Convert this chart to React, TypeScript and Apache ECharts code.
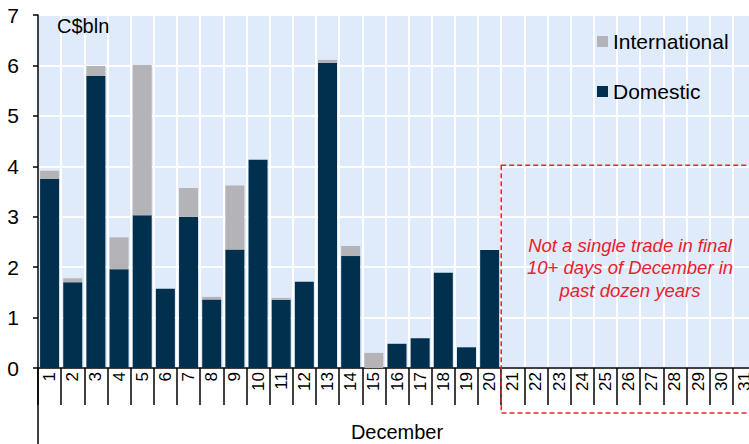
import React, { useEffect, useRef } from "react";
import * as echarts from "echarts";

const days = ["1","2","3","4","5","6","7","8","9","10","11","12","13","14","15","16","17","18","19","20","21","22","23","24","25","26","27","28","29","30","31"];
const domestic = [3.75,1.70,5.79,1.96,3.03,1.57,3.00,1.36,2.35,4.13,1.35,1.71,6.05,2.22,0,0.48,0.59,1.89,0.41,2.34];
const international = [0.16,0.08,0.20,0.63,2.98,0,0.57,0.05,1.27,0,0.04,0,0.06,0.20,0.30,0,0,0,0,0];
const yTicks = [0,1,2,3,4,5,6,7];
const noteLines = ["Not a single trade in final", "10+ days of December in", "past dozen years"];
const unitLabel = "C$bln";
const axisTitle = "December";
const boxStartDay = "21";
const boxTopValue = 4.02;

const FONT = "Liberation Sans, Arial, sans-serif";
const RED = "#e8212b";

export default function App() {
  const ref = useRef<HTMLDivElement>(null);
  useEffect(() => {
    if (!ref.current) return;
    const chart = echarts.init(ref.current, null, { renderer: "svg" });
    chart.setOption({
      animation: false,
      grid: {
        left: 38,
        top: 15,
        right: -7,
        bottom: 76,
        show: true,
        backgroundColor: "#dfeafb",
        borderWidth: 0,
        containLabel: false,
        outerBoundsMode: "none",
      },
      legend: {
        data: ["International", "Domestic"],
        orient: "vertical",
        left: 592,
        top: 26,
        itemGap: 29,
        itemWidth: 11,
        itemHeight: 11,
        icon: "rect",
        textStyle: { fontSize: 21, color: "#000", fontFamily: FONT },
      },
      xAxis: {
        type: "category",
        data: days,
        name: axisTitle,
        nameLocation: "middle",
        nameGap: 54,
        nameTextStyle: { fontSize: 20, color: "#000", fontFamily: FONT },
        axisLine: { show: true, lineStyle: { color: "#000", width: 1.5 } },
        axisTick: { show: true, interval: 0, length: 37, lineStyle: { color: "#000", width: 1.5 } },
        axisLabel: { interval: 0, rotate: 90, fontSize: 17, color: "#000", fontFamily: FONT, margin: 4 },
        splitLine: { show: true, interval: 0, lineStyle: { color: "#ffffff", width: 2 } },
      },
      yAxis: {
        type: "value",
        min: yTicks[0],
        max: yTicks[yTicks.length - 1],
        interval: 1,
        axisLine: { show: true, lineStyle: { color: "#000", width: 1.5 } },
        axisTick: { show: true, length: 5, lineStyle: { color: "#000", width: 1.5 } },
        axisLabel: { fontSize: 21, color: "#000", fontFamily: FONT, margin: 19 },
        splitLine: { show: true, lineStyle: { color: "#ffffff", width: 2 } },
      },
      series: [
        {
          name: "Domestic",
          type: "bar",
          stack: "total",
          data: domestic,
          barCategoryGap: "18%",
          itemStyle: { color: "#00304e" },
        },
        {
          name: "International",
          type: "bar",
          stack: "total",
          data: international,
          barCategoryGap: "18%",
          itemStyle: { color: "#b4b4b8" },
        },
      ],
    });

    const c21 = chart.convertToPixel({ xAxisIndex: 0 }, boxStartDay) as number;
    const c22 = chart.convertToPixel({ xAxisIndex: 0 }, days[days.indexOf(boxStartDay) + 1]) as number;
    const band = c22 - c21;
    const boxLeft = c21 - band / 2;
    const boxTop = chart.convertToPixel({ yAxisIndex: 0 }, boxTopValue) as number;
    const y0 = chart.convertToPixel({ yAxisIndex: 0 }, 0) as number;
    const yTop = chart.convertToPixel({ yAxisIndex: 0 }, yTicks[yTicks.length - 1]) as number;
    const gridLeft = (chart.convertToPixel({ xAxisIndex: 0 }, days[0]) as number) - band / 2;
    const boxBottom = y0 + 45;
    const textCx = 630;

    chart.setOption({
      graphic: [
        {
          type: "line",
          shape: { x1: gridLeft, y1: y0, x2: gridLeft, y2: 444 },
          style: { stroke: "#000", lineWidth: 1.5 },
          z: 10,
        },
        {
          type: "text",
          left: 57,
          top: yTop + 1,
          style: { text: unitLabel, fontSize: 20, fill: "#000", fontFamily: FONT },
          z: 10,
        },
        {
          type: "rect",
          shape: { x: boxLeft, y: boxTop, width: 800 - boxLeft, height: boxBottom - boxTop },
          style: { fill: "none", stroke: RED, lineWidth: 1.5, lineDash: [5, 3] },
          z: 10,
        },
        ...noteLines.map((t, i) => ({
          type: "text",
          x: textCx,
          y: 245 + i * 22.5,
          style: {
            text: t,
            fontSize: 18.5,
            fontStyle: "italic",
            fill: RED,
            fontFamily: FONT,
            textAlign: "center",
            textVerticalAlign: "middle",
          },
          z: 10,
        })),
      ],
    });

    return () => chart.dispose();
  }, []);
  return (
    <div
      ref={ref}
      style={{ position: "fixed", left: 0, top: 0, width: 749, height: 444, background: "#fff" }}
    />
  );
}
